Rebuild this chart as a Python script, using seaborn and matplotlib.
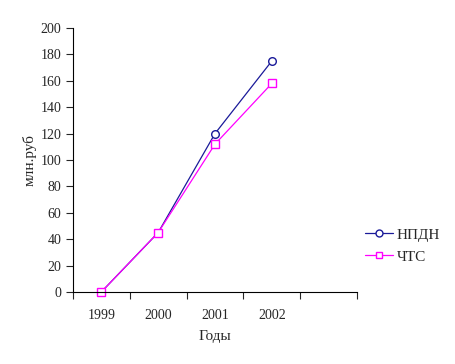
import numpy as np
import matplotlib.pyplot as plt
import pandas as pd
import seaborn as sns

years = ['1999', '2000', '2001', '2002']
npdn = [0, 45, 120, 175]
chts = [0, 45, 112, 158]
series_names = ['НПДН', 'ЧТС']

df = pd.DataFrame({
    'pos': list(range(len(years))) * 2,
    'value': npdn + chts,
    'series': [series_names[0]] * len(years) + [series_names[1]] * len(years),
})

sns.set_style('white')
plt.rcParams['font.family'] = ['Liberation Serif', 'DejaVu Serif']

fig = plt.figure(figsize=(4.56, 3.64), dpi=100)
ax = fig.add_axes([0.160, 0.198, 0.623, 0.725])

palette = {'НПДН': '#1a1a99', 'ЧТС': '#ff00ff'}
markers = {'НПДН': 'o', 'ЧТС': 's'}
sns.lineplot(data=df, x='pos', y='value', hue='series', style='series',
             palette=palette, markers=markers, dashes=False, ax=ax,
             linewidth=0.9, markersize=5.5)

# hollow markers with coloured edges
for line in ax.lines:
    c = line.get_color()
    line.set_markerfacecolor('white')
    line.set_markeredgecolor(c)
    line.set_markeredgewidth(1.0)
    line.set_clip_on(False)

ax.set_xlim(-0.5, 4.5)
ax.set_ylim(0, 200)
ax.set_yticks(range(0, 201, 20))
ax.set_xticks(range(len(years)))
ax.set_xticklabels(years)
ax.set_xticks(np.arange(-0.5, 4.6, 1), minor=True)
ax.tick_params(axis='x', which='major', length=0, pad=12, labelsize=10)
ax.tick_params(axis='x', which='minor', length=5, width=0.8, direction='out', bottom=True)
ax.tick_params(axis='y', length=5, width=0.8, direction='out', left=True, labelsize=10)

for s in ['top', 'right']:
    ax.spines[s].set_visible(False)
for s in ['left', 'bottom']:
    ax.spines[s].set_color('black')
    ax.spines[s].set_linewidth(0.8)

ax.set_xlabel('Годы', fontsize=11, labelpad=6)
ax.set_ylabel('млн.руб', fontsize=11, labelpad=3)

handles, labels = ax.get_legend_handles_labels()
for h in handles:
    c = h.get_color()
    h.set_markerfacecolor('white')
    h.set_markeredgecolor(c)
    h.set_markeredgewidth(1.0)
    h.set_markersize(5)
ax.legend(handles, labels, loc='center left', bbox_to_anchor=(0.98, 0.175),
          frameon=False, fontsize=11, handlelength=1.8, handletextpad=0.25,
          labelspacing=0.55)

plt.savefig('out.png', dpi=100)
